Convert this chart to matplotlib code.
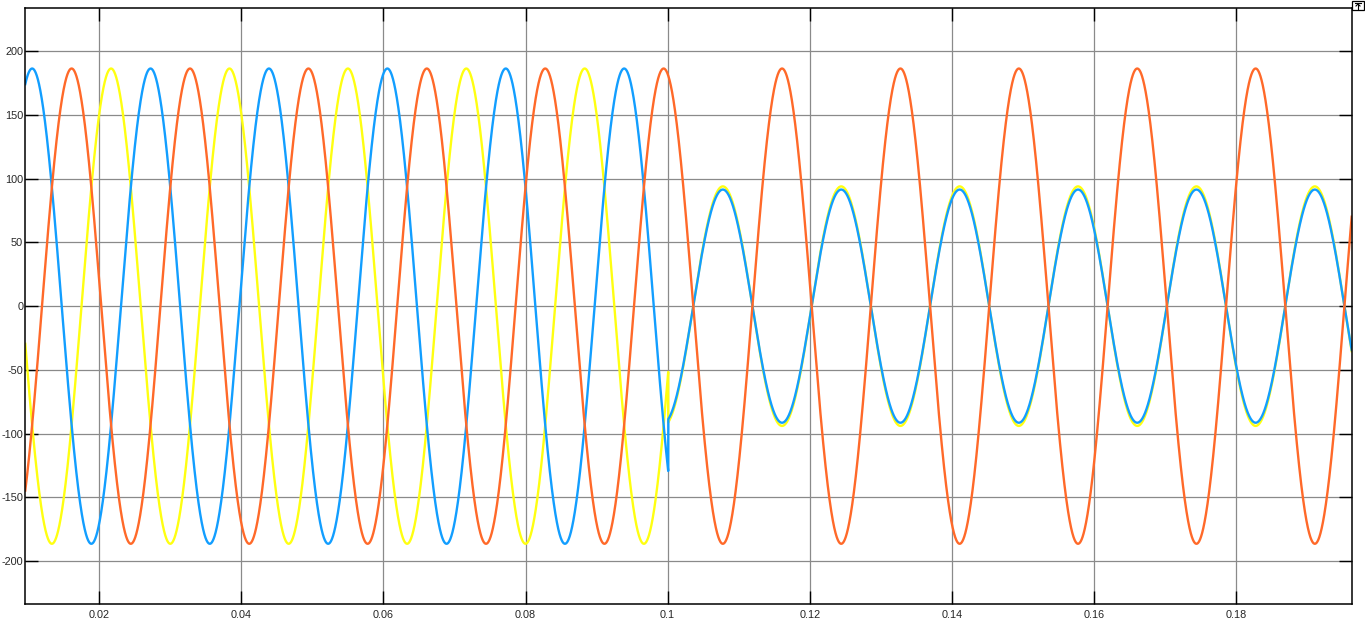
import numpy as np
import matplotlib
matplotlib.use("Agg")
import matplotlib.pyplot as plt
from matplotlib.patches import Rectangle
from matplotlib.lines import Line2D

# ---- values ----
series_names = ["Phase B", "Phase C", "Phase A"]          # yellow, blue, orange
series_colors = ["#FFFF11", "#129EFF", "#FF6929"]
freq_hz = 60.0
peak_time_phase_a = 0.0161          # a crest of the orange trace (s)
pre_fault_amplitude = [186.5, 186.5, 186.5]
pre_fault_shift_deg = [-120.0, 120.0, 0.0]   # relative to orange
fault_time = 0.10008
post_fault_amplitude = [94.0, 91.5, 186.5]
post_fault_shift_deg = [180.0, 180.0, 0.0]

x_ticks = [0.02, 0.04, 0.06, 0.08, 0.10, 0.12, 0.14, 0.16, 0.18]
x_tick_labels = ["0.02", "0.04", "0.06", "0.08", "0.1", "0.12", "0.14", "0.16", "0.18"]
y_ticks = [-200, -150, -100, -50, 0, 50, 100, 150, 200]
y_tick_labels = ["-200", "-150", "-100", "-50", "0", "50", "100", "150", "200"]
x_range = [0.00958, 0.19629]
y_range = [-234, 234]

# ---- build figure ----
plt.rcParams["font.family"] = ["Liberation Sans", "DejaVu Sans"]
plt.rcParams["axes.unicode_minus"] = False

fig = plt.figure(figsize=(13.65, 6.24), dpi=100)
ax = fig.add_axes([0.01853, 0.03157, 0.99026 - 0.01853, 0.98718 - 0.03157])

t = np.arange(x_range[0] - 0.001, x_range[1] + 0.001, 2e-6)
w = 2 * np.pi * freq_hz
for name, col, a0, s0, a1, s1 in zip(series_names, series_colors,
                                     pre_fault_amplitude, pre_fault_shift_deg,
                                     post_fault_amplitude, post_fault_shift_deg):
    pre = a0 * np.cos(w * (t - peak_time_phase_a) + np.deg2rad(s0))
    post = a1 * np.cos(w * (t - peak_time_phase_a) + np.deg2rad(s1))
    y = np.where(t < fault_time, pre, post)
    ax.plot(t, y, color=col, lw=1.7, label=name, solid_joinstyle="round")

ax.set_xlim(*x_range)
ax.set_ylim(*y_range)
ax.set_xticks(x_ticks)
ax.set_xticklabels(x_tick_labels)
ax.set_yticks(y_ticks)
ax.set_yticklabels(y_tick_labels)
ax.grid(True, color="#8a8a8a", lw=0.9)
ax.set_axisbelow(True)
ax.tick_params(direction="in", length=9.4, width=1.0, color="black",
               top=True, right=True, labelsize=7.8, labelcolor="#262626")
ax.tick_params(axis="y", pad=1.5)
ax.tick_params(axis="x", pad=4)
for sp in ax.spines.values():
    sp.set_color("black")
    sp.set_linewidth(1.1)

# small scope icon at the top-right corner
fig.add_artist(Rectangle((1352 / 1365, 1 - 10 / 624), 12 / 1365, 9 / 624,
                         transform=fig.transFigure, fill=False, ec="black", lw=0.9))
fig.add_artist(Line2D([1355 / 1365, 1361 / 1365], [1 - 3 / 624, 1 - 3 / 624],
                      transform=fig.transFigure, color="black", lw=0.8))
fig.add_artist(Line2D([1358 / 1365, 1358 / 1365], [1 - 9 / 624, 1 - 4 / 624],
                      transform=fig.transFigure, color="black", lw=0.8))
fig.add_artist(Line2D([1356 / 1365, 1358 / 1365, 1360 / 1365],
                      [1 - 6 / 624, 1 - 4 / 624, 1 - 6 / 624],
                      transform=fig.transFigure, color="black", lw=0.8))

fig.savefig("out.png", dpi=100, facecolor="white")
